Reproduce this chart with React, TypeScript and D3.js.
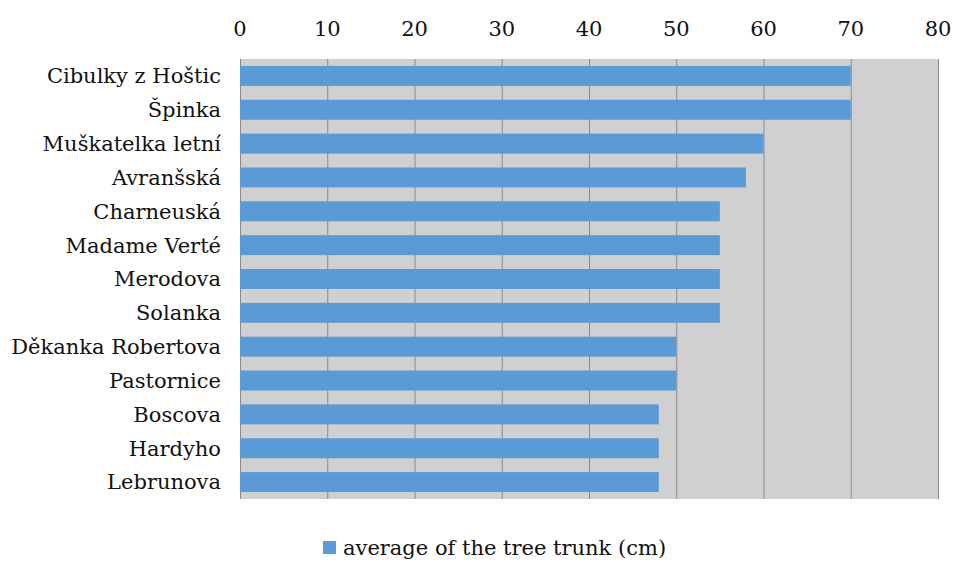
import React, { useEffect, useRef } from "react";
import * as d3 from "d3";

const varieties = [
  "Cibulky z Hoštic",
  "Špinka",
  "Muškatelka letní",
  "Avranšská",
  "Charneuská",
  "Madame Verté",
  "Merodova",
  "Solanka",
  "Děkanka Robertova",
  "Pastornice",
  "Boscova",
  "Hardyho",
  "Lebrunova",
];
const trunkAvg = [70, 70, 60, 58, 55, 55, 55, 55, 50, 50, 48, 48, 48];
const xTicks = [0, 10, 20, 30, 40, 50, 60, 70, 80];
const seriesName = "average of the tree trunk (cm)";

const FONT = "'DejaVu Serif', serif";

export default function App() {
  const ref = useRef<SVGSVGElement>(null);

  useEffect(() => {
    const width = 954;
    const height = 561;
    const margin = { top: 59, right: 16, bottom: 62, left: 240 };
    const innerWidth = width - margin.left - margin.right;
    const innerHeight = height - margin.top - margin.bottom;

    const data = varieties.map((name, i) => ({ name, value: trunkAvg[i] }));

    const svg = d3.select(ref.current).attr("width", width).attr("height", height);
    svg.selectAll("*").remove();

    const g = svg.append("g").attr("transform", `translate(${margin.left}, ${margin.top})`);

    const x = d3.scaleLinear().domain([0, 80]).range([0, innerWidth]);
    const y = d3.scaleBand()
      .domain(varieties)
      .range([0, innerHeight])
      .paddingInner(0.41)
      .paddingOuter(0.205);

    // plot background
    g.append("rect")
      .attr("width", innerWidth)
      .attr("height", innerHeight)
      .attr("fill", "#d0d0d0");

    // vertical grid
    g.selectAll(".grid")
      .data(xTicks)
      .enter()
      .append("line")
      .attr("x1", d => x(d) + 0.5)
      .attr("x2", d => x(d) + 0.5)
      .attr("y1", 0)
      .attr("y2", innerHeight)
      .attr("stroke", "#8a8a8a")
      .attr("stroke-width", 1);

    // bars
    g.selectAll(".bar")
      .data(data)
      .enter()
      .append("rect")
      .attr("x", 0)
      .attr("y", d => y(d.name)!)
      .attr("width", d => x(d.value))
      .attr("height", y.bandwidth())
      .attr("fill", "#5b9bd5");

    // top tick labels
    g.selectAll(".xlab")
      .data(xTicks)
      .enter()
      .append("text")
      .attr("x", d => x(d))
      .attr("y", -23)
      .attr("text-anchor", "middle")
      .attr("font-family", FONT)
      .attr("font-size", 21)
      .attr("fill", "#111")
      .text(d => d);

    // category labels
    g.selectAll(".ylab")
      .data(varieties)
      .enter()
      .append("text")
      .attr("x", -19)
      .attr("y", d => y(d)! + y.bandwidth() / 2)
      .attr("dy", "0.35em")
      .attr("text-anchor", "end")
      .attr("font-family", FONT)
      .attr("font-size", 21)
      .attr("fill", "#111")
      .text(d => d);

    // legend
    const lg = svg.append("g").attr("transform", `translate(323, 541)`);
    lg.append("rect").attr("width", 13).attr("height", 13).attr("fill", "#5b9bd5");
    lg.append("text")
      .attr("x", 20)
      .attr("y", 7)
      .attr("dy", "0.35em")
      .attr("font-family", FONT)
      .attr("font-size", 21)
      .attr("fill", "#111")
      .text(seriesName);
  }, []);

  return (
    <svg ref={ref} style={{ position: "absolute", left: 0, top: 0 }}></svg>
  );
}
